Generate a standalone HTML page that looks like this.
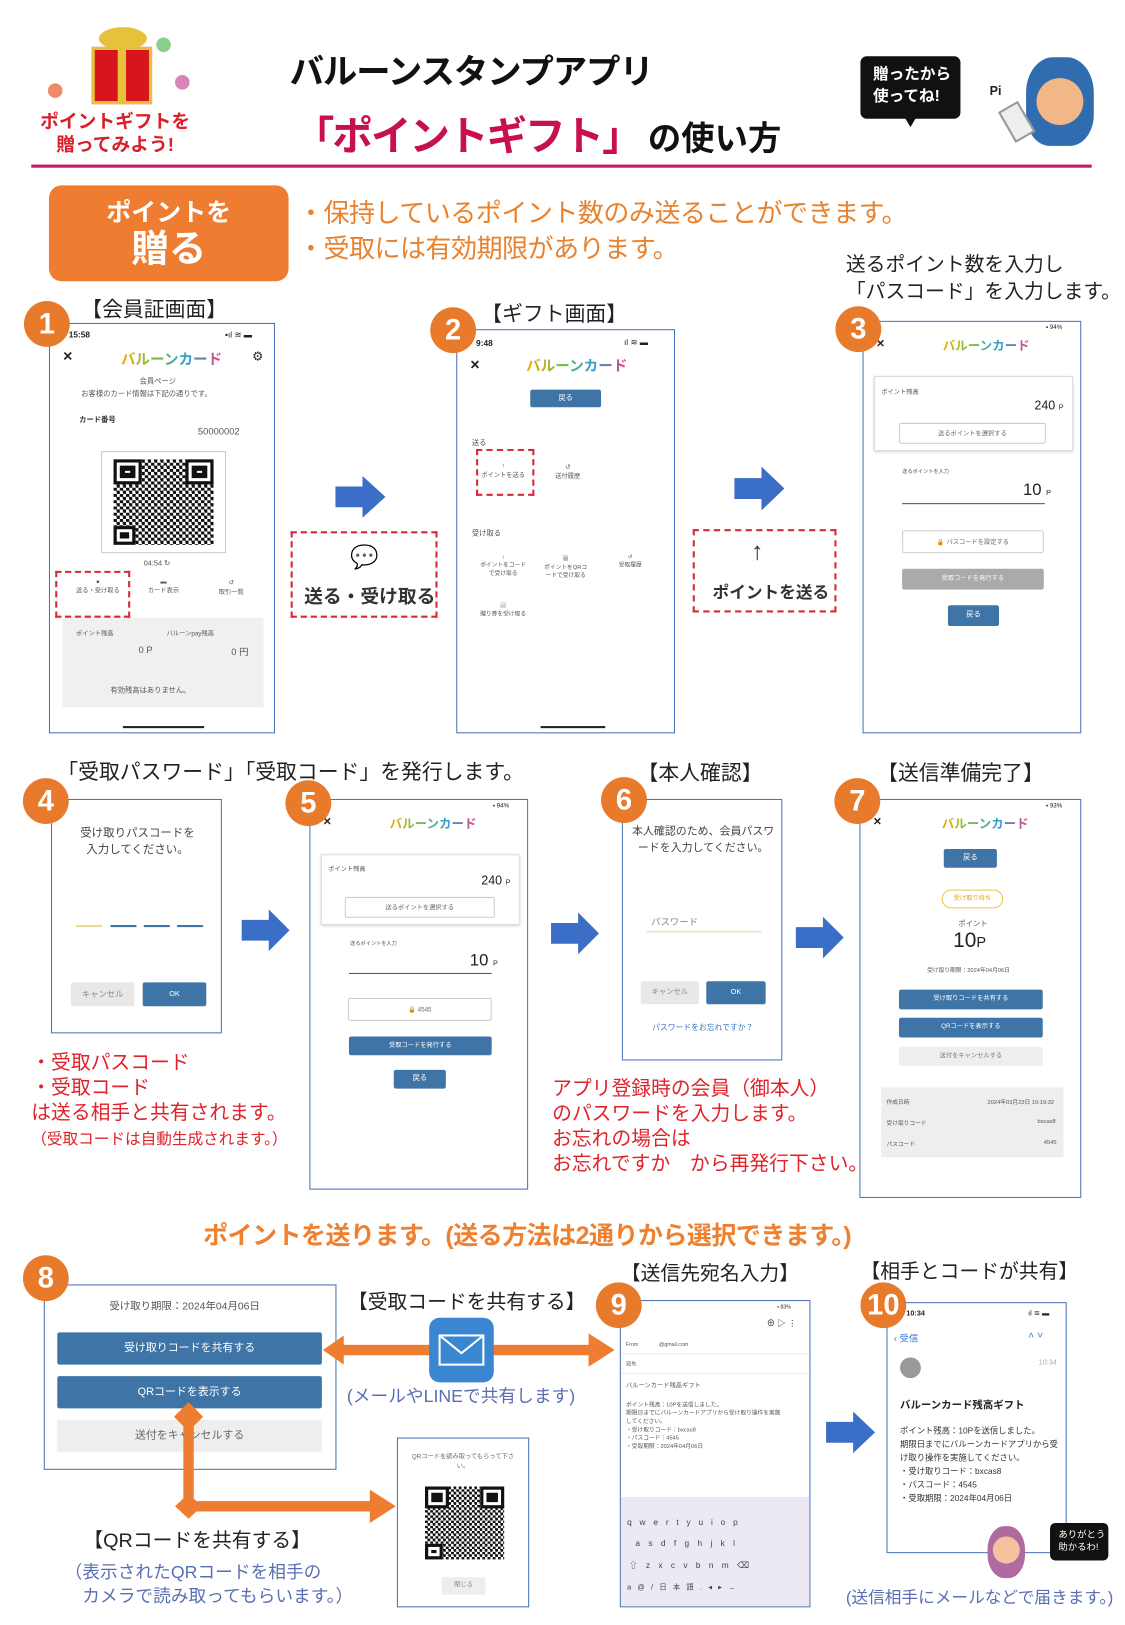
<!DOCTYPE html>
<html><head><meta charset="utf-8">
<style>
*{margin:0;padding:0;box-sizing:border-box}
body{width:1125px;height:1625px;overflow:hidden;background:#fff;font-family:"Liberation Sans","Noto Sans CJK JP",sans-serif;color:#222}
#w{position:absolute;left:0;top:0;width:1080px;height:1560px;transform:scale(1.0417);transform-origin:0 0}
.a{position:absolute;white-space:nowrap}
.ph{position:absolute;border:1.6px solid #4a72b8;background:#fff;overflow:hidden}
.c{position:absolute;width:44px;height:44px;border-radius:50%;background:#e87a2c;color:#fff;font-size:28px;font-weight:bold;text-align:center;line-height:44px;z-index:6}
.lb{font-size:20px;color:#222}
.s{font-size:7px;color:#555}
.bb{position:absolute;background:#3f74a6;color:#fff;font-size:7px;text-align:center;border-radius:2px}
.ob{position:absolute;border:1px solid #ccc;color:#666;font-size:6px;text-align:center;border-radius:2px;background:#fff}
.gb{position:absolute;background:#ccc;color:#fff;font-size:6px;text-align:center;border-radius:2px}
.logo{font-weight:bold;font-size:14px;background:linear-gradient(90deg,#f2a900,#7bc043,#2a9fd6,#e83f7f);-webkit-background-clip:text;color:transparent}
.rd{position:absolute;border:2px dashed #d8283a}
.qr{position:absolute;background:
repeating-conic-gradient(#111 0 25%,#fff 0 50%) 0 0/6px 6px,#fff}
.qr::before,.qr::after{content:"";position:absolute;width:22%;height:22%;border:3px solid #111;background:#fff;box-shadow:inset 0 0 0 3px #fff,inset 0 0 0 8px #111}
.qr::before{left:0;top:0}.qr::after{right:0;top:0}
.qr i{position:absolute;left:0;bottom:0;width:22%;height:22%;border:3px solid #111;background:#fff;box-shadow:inset 0 0 0 3px #fff,inset 0 0 0 8px #111}
.red{color:#e0232a;font-size:19px}
.blu{color:#5a6fb3;font-size:17px}
</style></head><body><div id="w">

<!-- header -->
<div class="a" style="left:88px;top:45px;width:58px;height:55px;background:#d8141c;border:3px solid #e8c13a"></div>
<div class="a" style="left:113px;top:45px;width:8px;height:55px;background:#e8c13a"></div>
<div class="a" style="left:95px;top:26px;width:46px;height:22px;border-radius:50%;background:#e8c13a"></div>
<div class="a" style="left:150px;top:36px;width:14px;height:14px;border-radius:50%;background:#8ccf8a"></div>
<div class="a" style="left:168px;top:72px;width:14px;height:14px;border-radius:50%;background:#d586b7"></div>
<div class="a" style="left:46px;top:80px;width:14px;height:14px;border-radius:50%;background:#ee8a6a"></div>
<div class="a" style="left:38px;top:106px;font-size:18px;font-weight:bold;color:#d9202a;line-height:22px;text-align:center;width:145px">ポイントギフトを<br>贈ってみよう!</div>
<div class="a" style="left:278px;top:42px;font-size:33px;font-weight:bold;color:#111;letter-spacing:-1px">バルーンスタンプアプリ</div>
<div class="a" style="left:282px;top:100px;font-size:39px;font-weight:bold;color:#c8104f;letter-spacing:-2px">「ポイントギフト」</div>
<div class="a" style="left:622px;top:108px;font-size:32px;font-weight:bold;color:#111">の使い方</div>
<div class="a" style="left:826px;top:54px;width:96px;height:60px;background:#111;border-radius:6px;color:#fff;font-size:15px;font-weight:bold;line-height:21px;padding:7px 0 0 12px">贈ったから<br>使ってね!</div>
<div class="a" style="left:868px;top:112px;border-left:6px solid transparent;border-right:6px solid transparent;border-top:10px solid #111"></div>
<div class="a" style="left:950px;top:80px;font-size:12px;font-weight:bold">Pi</div>
<div class="a" style="left:985px;top:55px;width:65px;height:85px;border-radius:40% 40% 35% 35%;background:#2f6db0"></div>
<div class="a" style="left:995px;top:75px;width:45px;height:45px;border-radius:50%;background:#f2b786"></div>
<div class="a" style="left:965px;top:100px;width:22px;height:34px;border:2px solid #999;background:#eee;transform:rotate(-30deg)"></div>
<div class="a" style="left:30px;top:158px;width:1018px;height:3px;background:#c8186c"></div>

<div class="a" style="left:47px;top:178px;width:230px;height:92px;background:#ee7d31;border-radius:12px;color:#fff;text-align:center;font-weight:bold"><div style="font-size:24px;margin-top:6px">ポイントを</div><div style="font-size:36px;line-height:40px">贈る</div></div>
<div class="a" style="left:286px;top:188px;font-size:25px;color:#e8822e;line-height:34px;letter-spacing:-0.5px">・保持しているポイント数のみ送ることができます。<br>・受取には有効期限があります。</div>
<div class="a" style="left:812px;top:242px;font-size:19px;line-height:26px">送るポイント数を入力し<br>「パスコード」を入力します。</div>

<!-- row1 -->
<div class="a lb" style="left:78px;top:281px">【会員証画面】</div>
<div class="a lb" style="left:462px;top:285px">【ギフト画面】</div>

<div class="ph" style="left:47px;top:310px;width:217px;height:394px">
 <div class="a" style="left:18px;top:6px;font-size:8px;font-weight:bold">15:58</div>
 <div class="a" style="left:168px;top:6px;font-size:8px">▪ıl ≋ ▬</div>
 <div class="a" style="left:12px;top:24px;font-size:12px;font-weight:bold">✕</div>
 <div class="a logo" style="left:68px;top:24px">バルーンカード</div>
 <div class="a" style="left:194px;top:24px;font-size:12px">⚙</div>
 <div class="a s" style="left:86px;top:50px">会員ページ</div>
 <div class="a s" style="left:30px;top:62px">お客様のカード情報は下記の通りです。</div>
 <div class="a s" style="left:28px;top:87px;font-weight:bold;color:#333">カード番号</div>
 <div class="a" style="left:142px;top:98px;font-size:9px;color:#555">50000002</div>
 <div class="a" style="left:49px;top:122px;width:120px;height:98px;border:1px solid #ccc"></div>
 <div class="qr" style="left:61px;top:130px;width:96px;height:82px"><i></i></div>
 <div class="a s" style="left:90px;top:226px">04:54 ↻</div>
 <div class="a s" style="left:22px;top:245px;font-size:6px;text-align:center;width:48px">●<br>送る・受け取る</div>
 <div class="a s" style="left:85px;top:245px;font-size:6px;text-align:center;width:48px">▬<br>カード表示</div>
 <div class="a s" style="left:150px;top:245px;font-size:6px;text-align:center;width:48px">↺<br>取引一覧</div>
 <div class="a" style="left:12px;top:282px;width:193px;height:86px;background:#f0f0f0"></div>
 <div class="a s" style="left:25px;top:292px;font-size:6px">ポイント残高</div>
 <div class="a s" style="left:112px;top:292px;font-size:6px">バルーンpay残高</div>
 <div class="a s" style="left:85px;top:308px;font-size:9px">0 P</div>
 <div class="a s" style="left:174px;top:308px;font-size:9px">0 円</div>
 <div class="a s" style="left:58px;top:347px">有効残高はありません。</div>
 <div class="a" style="left:70px;top:386px;width:78px;height:2px;background:#222"></div>
</div>
<div class="rd" style="left:53px;top:548px;width:72px;height:45px"></div>
<div class="c" style="left:23px;top:289px">1</div>

<div class="ph" style="left:438px;top:316px;width:210px;height:388px">
 <div class="a" style="left:18px;top:8px;font-size:8px;font-weight:bold">9:48</div>
 <div class="a" style="left:160px;top:7px;font-size:8px">ıl ≋ ▬</div>
 <div class="a" style="left:12px;top:26px;font-size:12px;font-weight:bold">✕</div>
 <div class="a logo" style="left:66px;top:24px">バルーンカード</div>
 <div class="bb" style="left:70px;top:57px;width:68px;height:17px;line-height:17px">戻る</div>
 <div class="a s" style="left:14px;top:103px">送る</div>
 <div class="a s" style="left:20px;top:128px;font-size:6px;text-align:center;width:48px">↑<br>ポイントを送る</div>
 <div class="a s" style="left:82px;top:128px;font-size:6px;text-align:center;width:48px">↺<br>送付履歴</div>
 <div class="a s" style="left:14px;top:190px">受け取る</div>
 <div class="a s" style="left:18px;top:215px;font-size:5.5px;text-align:center;width:52px">↓<br>ポイントをコード<br>で受け取る</div>
 <div class="a s" style="left:78px;top:215px;font-size:5.5px;text-align:center;width:52px">▦<br>ポイントをQRコ<br>ードで受け取る</div>
 <div class="a s" style="left:140px;top:215px;font-size:5.5px;text-align:center;width:52px">↺<br>受取履歴</div>
 <div class="a s" style="left:18px;top:260px;font-size:5.5px;text-align:center;width:52px">▤<br>贈り券を受け取る</div>
 <div class="a" style="left:80px;top:380px;width:62px;height:2px;background:#222"></div>
</div>
<div class="rd" style="left:457px;top:431px;width:56px;height:45px"></div>
<div class="c" style="left:413px;top:295px">2</div>

<div class="ph" style="left:828px;top:308px;width:210px;height:396px">
 <div class="a" style="left:175px;top:3px;font-size:6px">▪ 94%</div>
 <div class="a" style="left:12px;top:16px;font-size:10px;font-weight:bold">✕</div>
 <div class="a logo" style="left:76px;top:14px;font-size:12px">バルーンカード</div>
 <div class="a" style="left:10px;top:52px;width:191px;height:72px;border:1px solid #ddd;box-shadow:0 1px 3px #ccc"></div>
 <div class="a s" style="left:17px;top:62px;font-size:6px">ポイント残高</div>
 <div class="a" style="left:164px;top:73px;font-size:12px">240 <span style="font-size:7px">P</span></div>
 <div class="ob" style="left:34px;top:97px;width:141px;height:20px;line-height:20px">送るポイントを選択する</div>
 <div class="a s" style="left:37px;top:140px;font-size:5px">送るポイントを入力</div>
 <div class="a" style="left:153px;top:153px;font-size:16px">10 <span style="font-size:7px">P</span></div>
 <div class="a" style="left:37px;top:174px;width:137px;height:1px;background:#555"></div>
 <div class="ob" style="left:37px;top:200px;width:136px;height:22px;line-height:22px"><span style="color:#3f74a6">🔒</span> パスコードを設定する</div>
 <div class="gb" style="left:37px;top:237px;width:136px;height:20px;line-height:20px;background:#aaa">受取コードを発行する</div>
 <div class="bb" style="left:81px;top:272px;width:49px;height:20px;line-height:20px">戻る</div>
</div>
<div class="c" style="left:802px;top:294px">3</div>

<!-- blue arrows -->
<svg class="a" style="left:0;top:0" width="1080" height="1560">
 <g fill="#3a6ec7">
 <polygon points="322,467 348,467 348,457 370,477 348,497 348,487 322,487"/>
 <polygon points="705,459 731,459 731,448 753,469 731,490 731,479 705,479"/>
 <polygon points="232,883 258,883 258,873 278,893 258,913 258,903 232,903"/>
 <polygon points="529,886 555,886 555,876 575,896 555,916 555,906 529,906"/>
 <polygon points="764,890 790,890 790,880 810,900 790,920 790,910 764,910"/>
 <polygon points="793,1365 819,1365 819,1355 840,1375 819,1395 819,1385 793,1385"/>
 </g>
</svg>

<div class="rd" style="left:279px;top:510px;width:141px;height:83px"></div>
<div class="a" style="left:336px;top:522px;font-size:22px;color:#2f3d4f">💬</div>
<div class="a" style="left:292px;top:559px;font-size:18px;font-weight:bold;color:#333">送る・受け取る</div>
<div class="rd" style="left:665px;top:508px;width:138px;height:80px"></div>
<div class="a" style="left:721px;top:516px;font-size:24px;font-weight:bold;color:#333">↑</div>
<div class="a" style="left:684px;top:555px;font-size:16px;font-weight:bold;color:#333">ポイントを送る</div>

<!-- row2 -->
<div class="a lb" style="left:55px;top:725px">「受取パスワード」「受取コード」を発行します。</div>
<div class="a lb" style="left:612px;top:726px">【本人確認】</div>
<div class="a lb" style="left:842px;top:726px">【送信準備完了】</div>

<div class="ph" style="left:49px;top:767px;width:164px;height:225px">
 <div class="a" style="left:0;top:24px;width:164px;text-align:center;font-size:11px;color:#444;line-height:16px;white-space:normal">受け取りパスコードを<br>入力してください。</div>
 <div class="a" style="left:23px;top:120px;width:25px;height:1.5px;background:#f0d890"></div>
 <div class="a" style="left:56px;top:120px;width:25px;height:1.5px;background:#3f74a6"></div>
 <div class="a" style="left:88px;top:120px;width:25px;height:1.5px;background:#3f74a6"></div>
 <div class="a" style="left:120px;top:120px;width:25px;height:1.5px;background:#3f74a6"></div>
 <div class="gb" style="left:18px;top:175px;width:61px;height:23px;line-height:23px;background:#e8e8e8;color:#888;font-size:8px">キャンセル</div>
 <div class="bb" style="left:87px;top:175px;width:61px;height:23px;line-height:23px">OK</div>
</div>
<div class="c" style="left:22px;top:747px">4</div>

<div class="ph" style="left:297px;top:767px;width:210px;height:375px">
 <div class="a" style="left:175px;top:3px;font-size:6px">▪ 94%</div>
 <div class="a" style="left:12px;top:16px;font-size:10px;font-weight:bold">✕</div>
 <div class="a logo" style="left:76px;top:14px;font-size:12px">バルーンカード</div>
 <div class="a" style="left:10px;top:52px;width:191px;height:68px;border:1px solid #ddd;box-shadow:0 1px 3px #ccc"></div>
 <div class="a s" style="left:17px;top:61px;font-size:6px">ポイント残高</div>
 <div class="a" style="left:164px;top:70px;font-size:12px">240 <span style="font-size:7px">P</span></div>
 <div class="ob" style="left:33px;top:93px;width:144px;height:20px;line-height:20px">送るポイントを選択する</div>
 <div class="a s" style="left:38px;top:134px;font-size:5px">送るポイントを入力</div>
 <div class="a" style="left:153px;top:146px;font-size:16px">10 <span style="font-size:7px">P</span></div>
 <div class="a" style="left:37px;top:166px;width:137px;height:1px;background:#555"></div>
 <div class="ob" style="left:36px;top:190px;width:138px;height:22px;line-height:22px"><span style="color:#2ea043">🔒</span> 4545</div>
 <div class="bb" style="left:37px;top:227px;width:137px;height:18px;line-height:18px;font-size:6px">受取コードを発行する</div>
 <div class="bb" style="left:80px;top:259px;width:50px;height:18px;line-height:18px">戻る</div>
</div>
<div class="c" style="left:274px;top:749px">5</div>

<div class="ph" style="left:597px;top:767px;width:154px;height:251px">
 <div class="a" style="left:8px;top:22px;width:138px;text-align:center;font-size:10.5px;color:#444;line-height:16px;white-space:normal">本人確認のため、会員パスワードを入力してください。</div>
 <div class="a" style="left:27px;top:110px;font-size:9px;color:#888">パスワード</div>
 <div class="a" style="left:23px;top:126px;width:110px;height:1px;background:#f0d890"></div>
 <div class="gb" style="left:17px;top:174px;width:56px;height:22px;line-height:22px;background:#e8e8e8;color:#888;font-size:7px">キャンセル</div>
 <div class="bb" style="left:80px;top:174px;width:57px;height:22px;line-height:22px">OK</div>
 <div class="a" style="left:28px;top:213px;font-size:7.5px;color:#3f74c6">パスワードをお忘れですか？</div>
</div>
<div class="c" style="left:577px;top:746px">6</div>

<div class="ph" style="left:825px;top:767px;width:213px;height:383px">
 <div class="a" style="left:178px;top:3px;font-size:6px">▪ 93%</div>
 <div class="a" style="left:12px;top:16px;font-size:10px;font-weight:bold">✕</div>
 <div class="a logo" style="left:78px;top:14px;font-size:12px">バルーンカード</div>
 <div class="bb" style="left:80px;top:47px;width:51px;height:18px;line-height:18px">戻る</div>
 <div class="a" style="left:78px;top:86px;width:59px;height:18px;border:1px solid #e8c64a;border-radius:9px;font-size:6px;color:#d8a820;text-align:center;line-height:16px">受け取り待ち</div>
 <div class="a s" style="left:94px;top:114px">ポイント</div>
 <div class="a" style="left:89px;top:124px;font-size:20px">10<span style="font-size:14px">P</span></div>
 <div class="a s" style="left:64px;top:159px;font-size:5.5px">受け取り期限：2024年04月06日</div>
 <div class="bb" style="left:37px;top:182px;width:138px;height:19px;line-height:19px;font-size:6px">受け取りコードを共有する</div>
 <div class="bb" style="left:37px;top:209px;width:138px;height:19px;line-height:19px;font-size:6px">QRコードを表示する</div>
 <div class="gb" style="left:37px;top:237px;width:138px;height:18px;line-height:18px;background:#eee;color:#777">送付をキャンセルする</div>
 <div class="a" style="left:20px;top:276px;width:175px;height:67px;background:#eee"></div>
 <div class="a s" style="left:25px;top:286px;font-size:5.5px">作成日時</div><div class="a s" style="left:122px;top:286px;font-size:5.5px">2024年03月23日 10:19:32</div>
 <div class="a s" style="left:25px;top:306px;font-size:5.5px">受け取りコード</div><div class="a s" style="left:170px;top:306px;font-size:5.5px">bxcas8</div>
 <div class="a s" style="left:25px;top:326px;font-size:5.5px">パスコード</div><div class="a s" style="left:176px;top:326px;font-size:5.5px">4545</div>
</div>
<div class="c" style="left:801px;top:747px">7</div>

<div class="a red" style="left:30px;top:1009px;line-height:24px">・受取パスコード<br>・受取コード<br>は送る相手と共有されます。<br><span style="font-size:15px">（受取コードは自動生成されます。）</span></div>
<div class="a red" style="left:530px;top:1034px;line-height:24px">アプリ登録時の会員（御本人）<br>のパスワードを入力します。<br>お忘れの場合は<br>お忘れですか　から再発行下さい。</div>

<!-- row3 -->
<div class="a" style="left:195px;top:1166px;font-size:24px;font-weight:bold;color:#ee8030;letter-spacing:-0.5px">ポイントを送ります。(送る方法は2通りから選択できます。)</div>

<div class="ph" style="left:42px;top:1233px;width:281px;height:178px">
 <div class="a" style="left:62px;top:11px;font-size:10px;color:#555">受け取り期限：2024年04月06日</div>
 <div class="bb" style="left:12px;top:45px;width:254px;height:31px;line-height:31px;font-size:10.5px">受け取りコードを共有する</div>
 <div class="bb" style="left:12px;top:87px;width:254px;height:31px;line-height:31px;font-size:10.5px">QRコードを表示する</div>
 <div class="gb" style="left:12px;top:129px;width:254px;height:31px;line-height:31px;background:#eee;color:#666;font-size:10.5px">送付をキャンセルする</div>
</div>
<div class="c" style="left:22px;top:1205px">8</div>
<div class="a lb" style="left:334px;top:1235px;font-size:19px">【受取コードを共有する】</div>
<div class="a blu" style="left:333px;top:1326px">(メールやLINEで共有します)</div>
<div class="a lb" style="left:80px;top:1464px;font-size:19px">【QRコードを共有する】</div>
<div class="a blu" style="left:62px;top:1498px;line-height:23px">（表示されたQRコードを相手の<br>　カメラで読み取ってもらいます。）</div>

<div class="ph" style="left:381px;top:1380px;width:127px;height:163px">
 <div class="a" style="left:10px;top:12px;width:105px;text-align:center;font-size:6px;color:#666;white-space:normal">QRコードを読み取ってもらって下さい。</div>
 <div class="qr" style="left:26px;top:46px;width:76px;height:70px;background-size:5px 5px"><i></i></div>
 <div class="gb" style="left:42px;top:133px;width:42px;height:17px;line-height:17px;background:#eee;color:#888">閉じる</div>
</div>

<div class="a lb" style="left:596px;top:1208px;font-size:19px">【送信先宛名入力】</div>
<div class="ph" style="left:595px;top:1248px;width:183px;height:295px">
 <div class="a" style="left:150px;top:3px;font-size:5px">▪ 83%</div>
 <div class="a" style="left:140px;top:16px;font-size:8px">⊕ ▷ ⋮</div>
 <div class="a s" style="left:5px;top:38px;font-size:5px">From　　　　@gmail.com</div>
 <div class="a" style="left:0;top:50px;width:183px;height:1px;background:#eee"></div>
 <div class="a s" style="left:5px;top:57px;font-size:5px">宛先</div>
 <div class="a" style="left:0;top:69px;width:183px;height:1px;background:#eee"></div>
 <div class="a s" style="left:5px;top:76px;font-size:6px">バルーンカード残高ギフト</div>
 <div class="a s" style="left:5px;top:96px;font-size:5.5px;line-height:8px">ポイント残高：10Pを送信しました。<br>期限日までにバルーンカードアプリから受け取り操作を実施<br>してください。<br>・受け取りコード：bxcas8<br>・パスコード：4545<br>・受取期限：2024年04月06日</div>
 <div class="a" style="left:0;top:188px;width:183px;height:105px;background:#ece8f4"></div>
 <div class="a" style="left:6px;top:208px;font-size:8px;color:#444;letter-spacing:7.5px">qwertyuiop</div>
 <div class="a" style="left:14px;top:228px;font-size:8px;color:#444;letter-spacing:8px">asdfghjkl</div>
 <div class="a" style="left:8px;top:248px;font-size:8px;color:#444;letter-spacing:8px">⇧zxcvbnm⌫</div>
 <div class="a" style="left:6px;top:270px;font-size:7px;color:#444;letter-spacing:6px">a@/日本語.◂▸→</div>
</div>
<div class="c" style="left:572px;top:1231px">9</div>

<div class="a lb" style="left:826px;top:1206px;font-size:19px">【相手とコードが共有】</div>
<div class="ph" style="left:851px;top:1250px;width:173px;height:241px">
 <div class="a" style="left:18px;top:7px;font-size:7px;font-weight:bold">10:34</div>
 <div class="a" style="left:135px;top:6px;font-size:7px">ıl ≋ ▬</div>
 <div class="a" style="left:6px;top:27px;font-size:9px;color:#3a7bd5">‹ 受信</div>
 <div class="a" style="left:135px;top:26px;font-size:10px;color:#3a7bd5">˄ ˅</div>
 <div class="a" style="left:12px;top:52px;width:20px;height:20px;border-radius:50%;background:#999"></div>
 <div class="a s" style="left:145px;top:54px;font-size:7px;color:#aaa">10:34</div>
 <div class="a" style="left:12px;top:89px;font-size:10px;font-weight:bold;color:#222">バルーンカード残高ギフト</div>
 <div class="a" style="left:12px;top:116px;font-size:8px;line-height:13px;color:#333">ポイント残高：10Pを送信しました。<br>期限日までにバルーンカードアプリから受<br>け取り操作を実施してください。<br>・受け取りコード：bxcas8<br>・パスコード：4545<br>・受取期限：2024年04月06日</div>
</div>
<div class="c" style="left:826px;top:1231px">10</div>
<div class="a" style="left:948px;top:1465px;width:36px;height:50px;border-radius:45%;background:#b06aa0"></div>
<div class="a" style="left:953px;top:1475px;width:26px;height:26px;border-radius:50%;background:#f5c2a0"></div>
<div class="a" style="left:1008px;top:1462px;width:56px;height:36px;background:#111;border-radius:5px;color:#fff;font-size:9px;line-height:12px;padding:5px 0 0 8px">ありがとう<br>助かるわ!</div>
<div class="a blu" style="left:812px;top:1520px;font-size:16px">(送信相手にメールなどで届きます。)</div>

<!-- orange connectors on top -->
<svg class="a" style="left:0;top:0;z-index:5" width="1080" height="1560">
 <g fill="#ee7d31">
 <rect x="325" y="1291" width="90" height="10"/>
 <rect x="472" y="1291" width="95" height="10"/>
 <polygon points="310,1296 330,1282 330,1310"/>
 <polygon points="590,1296 565,1280 565,1312"/>
 <rect x="176" y="1360" width="10" height="86"/>
 <polygon points="181,1346 195,1360 181,1374 167,1360"/>
 <rect x="181" y="1441" width="180" height="10"/>
 <polygon points="168,1446 181,1434 194,1446 181,1458"/>
 <polygon points="380,1446 355,1430 355,1462"/>
 </g>
</svg>
<div class="a" style="left:412px;top:1265px;width:62px;height:62px;background:#3a86d1;border-radius:10px;z-index:6"></div>
<div class="a" style="left:421px;top:1281px;width:44px;height:30px;border:2px solid #fff;background:#3a86d1;z-index:7"></div>
<svg class="a" style="left:421px;top:1281px;z-index:8" width="44" height="30"><polyline points="1,1 22,18 43,1" fill="none" stroke="#fff" stroke-width="2"/></svg>

</div></body></html>
